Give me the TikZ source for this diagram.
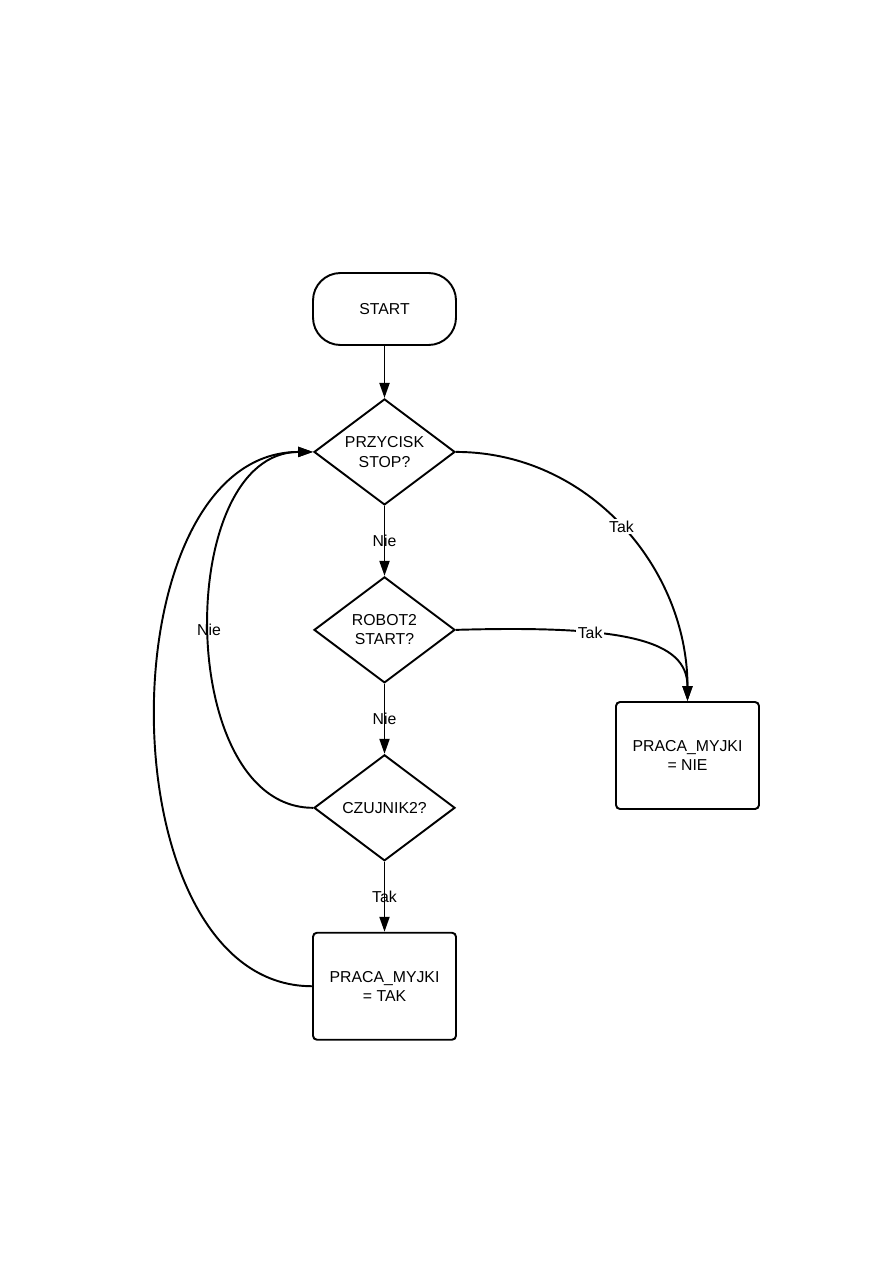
\documentclass[tikz,border=0pt]{standalone}
\usepackage{fontspec}
\setmainfont{Liberation Sans}
\usetikzlibrary{arrows.meta, positioning, shapes.geometric}

\begin{document}
\begin{tikzpicture}[
    node distance=1.40cm,
    line width=1.1pt,
    every node/.style={font=\fontsize{9}{11}\selectfont},
    term/.style={draw, rounded corners=0.55cm, minimum width=2.86cm, minimum height=1.44cm, align=center},
    decision/.style={draw, diamond, aspect=1.33, inner sep=0pt, minimum width=2.82cm, minimum height=2.12cm, align=center},
    box/.style={draw, rounded corners=0.08cm, minimum width=2.86cm, minimum height=2.14cm, align=center},
    arrow/.style={-{Triangle[length=3mm, width=2mm]}},
    answer/.style={inner sep=1pt},
    answerw/.style={answer, fill=white}
]
\useasboundingbox (0,0) rectangle (17.86,-25.26);

\node[term] (start) at (7.69,-6.18) {START};
\node[decision, below=1.04cm of start] (stop) {PRZYCISK\\STOP?};
\node[decision, below=of stop] (robot) {ROBOT2\\START?};
\node[decision, below=of robot] (czujnik) {CZUJNIK2?};
\node[box, below=of czujnik] (tak) {PRACA\_MYJKI\\= TAK};
\node[box] (nie) at (13.75,-15.11) {PRACA\_MYJKI\\= NIE};

\draw[arrow] (start) -- (stop);
\draw[arrow] (stop) -- (robot) node[midway, answer] {Nie};
\draw[arrow] (robot) -- (czujnik) node[midway, answer] {Nie};
\draw[arrow] (czujnik) -- (tak) node[midway, answer] {Tak};

\draw[arrow] (stop.east) to[out=0, in=90] node[answerw] {Tak} (nie.north);
\draw[arrow] (robot.east) .. controls (12.5,-12.5) and (13.75,-12.8) .. (nie.north)
    node[pos=0.33, answerw] {Tak};
\draw[arrow] (czujnik.west) to[out=180, in=180] node[answer] {Nie} (stop.west);
\draw[arrow] (tak.west) to[out=180, in=180] (stop.west);
\end{tikzpicture}
\end{document}
